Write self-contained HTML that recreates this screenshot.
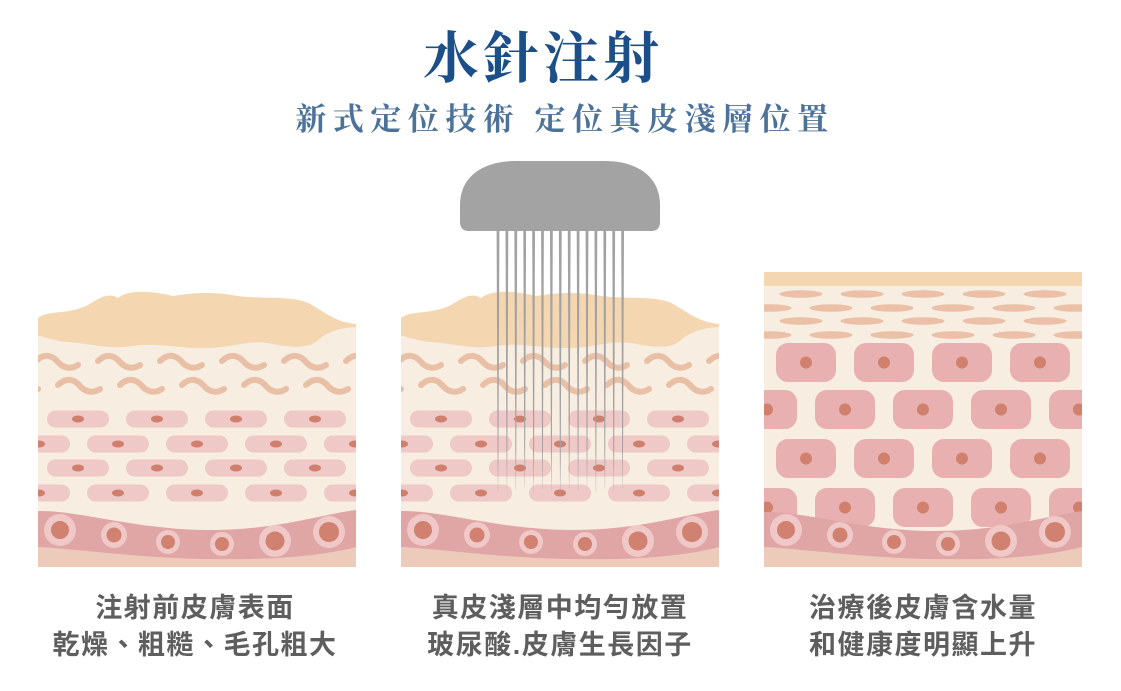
<!DOCTYPE html>
<html><head><meta charset="utf-8"><style>
html,body{margin:0;padding:0;background:#fff;width:1121px;height:691px;overflow:hidden}
svg{display:block}
</style></head><body>
<svg id="s" width="1121" height="691" viewBox="0 0 1121 691" xmlns="http://www.w3.org/2000/svg">
<defs>
<clipPath id="c1"><rect x="38" y="270" width="318" height="297"/></clipPath>
<clipPath id="c2"><rect x="401" y="270" width="318" height="297"/></clipPath>
<clipPath id="c3"><rect x="764" y="272" width="318" height="295"/></clipPath>
<linearGradient id="ng" x1="0" y1="0" x2="0" y2="1"><stop offset="0.85" stop-color="#a2a2a2"/><stop offset="1" stop-color="#a2a2a2" stop-opacity="0.3"/></linearGradient>
</defs>
<g id="p1" clip-path="url(#c1)"></g>
<g id="p2" clip-path="url(#c2)"></g>
<g id="p3" clip-path="url(#c3)"></g>
<g id="nd"></g>
<text x="543" y="78" text-anchor="middle" font-family="'Liberation Serif','Noto Serif CJK SC',serif" font-weight="bold" font-size="56" fill="#1c4f88" letter-spacing="4">水針注射</text>
<text x="565" y="130" text-anchor="middle" font-family="'Liberation Serif','Noto Serif CJK SC',serif" font-weight="bold" font-size="31" fill="#4d7299" letter-spacing="6.5">新式定位技術 定位真皮淺層位置</text>
<g font-family="'Liberation Sans','Noto Sans CJK TC',sans-serif" font-weight="bold" font-size="27" fill="#5e5e5e" text-anchor="middle" letter-spacing="1.5">
<text x="195" y="617">注射前皮膚表面</text>
<text x="195" y="654">乾燥、粗糙、毛孔粗大</text>
<text x="560" y="617">真皮淺層中均勻放置</text>
<text x="560" y="654">玻尿酸.皮膚生長因子</text>
<text x="923" y="617">治療後皮膚含水量</text>
<text x="923" y="654">和健康度明顯上升</text>
</g>
</svg>
<script>
var NS="http://www.w3.org/2000/svg";
function el(p,t,a){var e=document.createElementNS(NS,t);for(var k in a)e.setAttribute(k,a[k]);p.appendChild(e);return e;}
function panel(id,ox){
 var g=document.getElementById(id);
 el(g,'rect',{x:ox,y:326,width:318,height:241,fill:'#f7ede0'});
 el(g,'path',{fill:'#f4d6b0',d:'M'+ox+' 318 C'+(ox+10)+' 310 '+(ox+30)+' 315 '+(ox+50)+' 305 C'+(ox+62)+' 298 '+(ox+70)+' 292 '+(ox+80)+' 298 C'+(ox+90)+' 290 '+(ox+110)+' 290 '+(ox+135)+' 296 C'+(ox+160)+' 292 '+(ox+180)+' 292 '+(ox+200)+' 296 C'+(ox+225)+' 299 '+(ox+250)+' 296 '+(ox+268)+' 302 C'+(ox+285)+' 310 '+(ox+295)+' 322 '+(ox+318)+' 324 L'+(ox+318)+' 327 C'+(ox+300)+' 328 '+(ox+290)+' 332 '+(ox+280)+' 340 C'+(ox+270)+' 350 '+(ox+250)+' 347 '+(ox+230)+' 343 C'+(ox+210)+' 340 '+(ox+190)+' 348 '+(ox+170)+' 348 C'+(ox+140)+' 349 '+(ox+120)+' 342 '+(ox+95)+' 346 C'+(ox+70)+' 350 '+(ox+50)+' 343 '+(ox+30)+' 342 C'+(ox+15)+' 341 '+(ox+2)+' 335 '+ox+' 336 L'+ox+' 318 Z'});
 var rows=[[363,ox-2],[387,ox-42]];
 rows.forEach(function(r){for(var x=r[1];x<ox+330;x+=62){
  el(g,'path',{fill:'none',stroke:'#e9c0a6','stroke-width':6,'stroke-linecap':'round',d:'M'+x+' '+(r[0]-2)+' C'+(x+8)+' '+(r[0]-10)+' '+(x+16)+' '+(r[0]-8)+' '+(x+22)+' '+(r[0]-1)+' C'+(x+28)+' '+(r[0]+6)+' '+(x+36)+' '+(r[0]+6)+' '+(x+42)+' '+(r[0]+2)});}});
 var cr=[[419,ox+9],[444,ox-30],[468,ox+9],[493,ox-30]];
 cr.forEach(function(r){for(var x=r[1];x<ox+330;x+=79){
  el(g,'rect',{x:x,y:r[0]-8.5,width:62,height:17,rx:8.5,fill:'#efc8c8'});
  el(g,'ellipse',{cx:x+31,cy:r[0],rx:6,ry:3.5,fill:'#d07f6c'});}});
 blood(g,ox,0);
}
function blood(g,ox,dy){
 el(g,'rect',{x:ox,y:540,width:318,height:27,fill:'#edcbbb'});
 el(g,'path',{fill:'#e0a5a5',d:'M'+ox+' '+(511+dy)+' C'+(ox+40)+' '+(510+dy)+' '+(ox+100)+' '+(530+dy)+' '+(ox+170)+' '+(530+dy)+' C'+(ox+240)+' '+(530+dy)+' '+(ox+280)+' '+(515+dy)+' '+(ox+318)+' '+(510+dy)+' L'+(ox+318)+' 547 C'+(ox+280)+' 557 '+(ox+230)+' 560 '+(ox+170)+' 559 C'+(ox+100)+' 558 '+(ox+40)+' 549 '+ox+' 547 Z'});
 [[22,530,16,9],[76,535,13,7.5],[130,542,12,7],[184,544,12,7],[237,541,16,9.5],[291,532,16,10]].forEach(function(c){
  el(g,'circle',{cx:ox+c[0],cy:c[1],r:c[2],fill:'#f0c8c8'});
  el(g,'circle',{cx:ox+c[0],cy:c[1],r:c[3],fill:'#d08170'});});
}
panel('p1',38);panel('p2',401);
(function(){
 var g=document.getElementById('p3'),ox=764;
 el(g,'rect',{x:ox,y:272,width:318,height:295,fill:'#f7ede0'});
 el(g,'rect',{x:ox,y:272,width:318,height:14,fill:'#f4d6b0'});
 [[294,801],[308,770],[321,801],[335,770]].forEach(function(r){for(var x=r[1]-61;x<ox+340;x+=61)el(g,'ellipse',{cx:x,cy:r[0],rx:21.5,ry:3.8,fill:'#ebc0a6'});});
 [[343,776],[390,737],[439,776],[488,737]].forEach(function(r){for(var x=r[1];x<ox+330;x+=78){
  el(g,'rect',{x:x,y:r[0],width:60,height:39,rx:12,fill:'#e8b0b0'});
  el(g,'circle',{cx:x+30,cy:r[0]+19.5,r:6,fill:'#d0806c'});}});
 blood(g,ox,1);
})();
(function(){
 var g=document.getElementById('nd');
 el(g,'path',{fill:'#a3a3a3',d:'M460 222 L460 205 C460 175 485 161 515 161 L605 161 C635 161 660 175 660 205 L660 222 Q660 231 651 231 L469 231 Q460 231 460 222 Z'});
 var ends=[492,488,490,487,493,489,491,495,488,490,486,492,489,491,488];
 for(var i=0;i<15;i++){var x=498+i*8.9,e=ends[i];
  el(g,'path',{fill:'url(#ng)',d:'M'+(x-1.4)+' 231 L'+(x+1.4)+' 231 L'+(x+0.3)+' '+e+' L'+(x-0.3)+' '+e+' Z'});}
})();
</script>
</body></html>
